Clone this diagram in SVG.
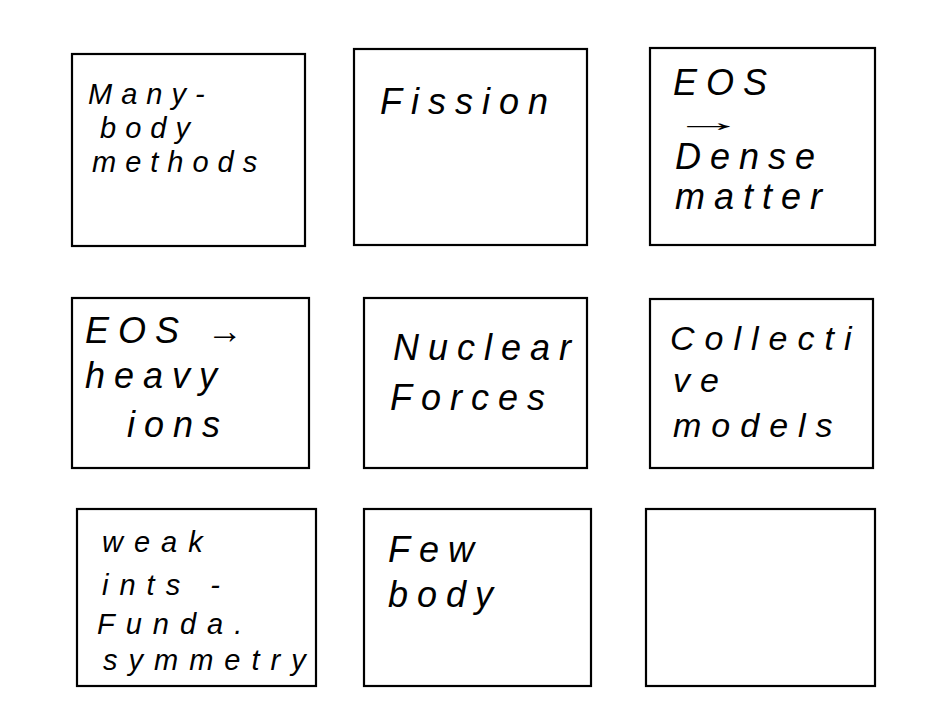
<svg xmlns="http://www.w3.org/2000/svg" width="944" height="704" viewBox="0 0 944 704">
<style>
.box{fill:#fff;stroke:#000;stroke-width:2.2}
.t{font-family:"Liberation Sans",Arial,sans-serif;font-size:36px;font-style:italic;letter-spacing:9px;fill:#000}
.s{font-size:29px;letter-spacing:9px}
.w{font-size:29px;letter-spacing:11px}
.m{font-size:34px;letter-spacing:10px}
.a{font-size:26px;letter-spacing:0}
</style>
<rect width="944" height="704" fill="#fff"/>
<g id="connectors"></g>
<g id="n1"><rect class="box" x="72" y="54" width="233" height="192"/>
<text class="t s" x="88" y="104">Many-</text>
<text class="t s" x="100" y="138">body</text>
<text class="t s" x="92" y="172">methods</text></g>
<g id="n2"><rect class="box" x="354" y="49" width="233" height="196"/>
<text class="t" x="380" y="114">Fission</text></g>
<g id="n3"><rect class="box" x="650" y="48" width="225" height="197"/>
<text class="t" x="673" y="95">EOS</text>
<text class="t a" x="673" y="131" textLength="72" lengthAdjust="spacingAndGlyphs">→</text>
<text class="t" x="675" y="169">Dense</text>
<text class="t" x="675" y="209">matter</text></g>
<g id="n4"><rect class="box" x="72" y="298" width="237" height="170"/>
<text class="t" x="85" y="343">EOS →</text>
<text class="t" x="85" y="388">heavy</text>
<text class="t" x="127" y="437">ions</text></g>
<g id="n5"><rect class="box" x="364" y="298" width="223" height="170"/>
<text class="t" x="393" y="360">Nuclear</text>
<text class="t" x="390" y="410">Forces</text></g>
<g id="n6"><rect class="box" x="650" y="299" width="223" height="169"/>
<text class="t m" x="670" y="350">Collecti</text>
<text class="t m" x="673" y="392">ve</text>
<text class="t m" x="673" y="437">models</text></g>
<g id="n7"><rect class="box" x="77" y="509" width="239" height="177"/>
<text class="t w" x="102" y="552">weak</text>
<text class="t w" x="102" y="595">ints -</text>
<text class="t w" x="97" y="634">Funda.</text>
<text class="t w" x="103" y="670">symmetry</text></g>
<g id="n8"><rect class="box" x="364" y="509" width="227" height="177"/>
<text class="t" x="388" y="562">Few</text>
<text class="t" x="388" y="607">body</text></g>
<g id="n9"><rect class="box" x="646" y="509" width="229" height="177"/></g>
</svg>
